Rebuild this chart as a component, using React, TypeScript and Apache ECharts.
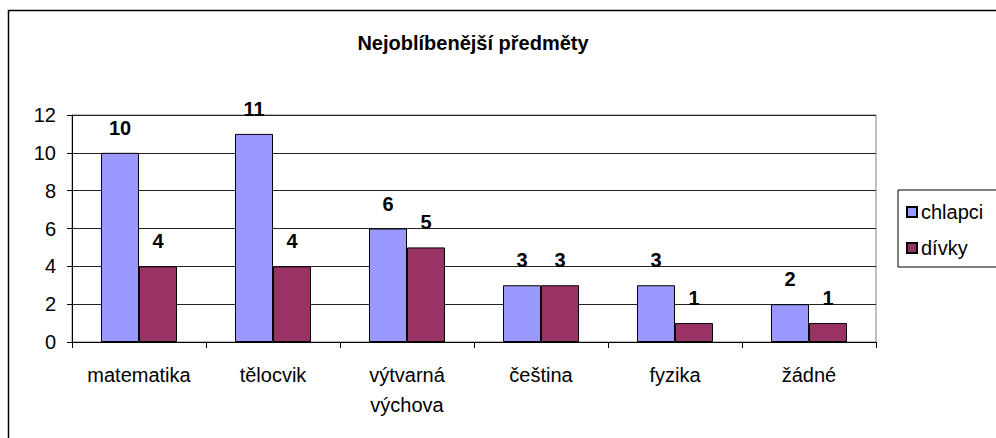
import React, { useEffect, useRef } from "react";
import * as echarts from "echarts";

const categories = ["matematika", "tělocvik", "výtvarná\nvýchova", "čeština", "fyzika", "žádné"];
const chlapci = [10, 11, 6, 3, 3, 2];
const divky = [4, 4, 5, 3, 1, 1];
const seriesNames = ["chlapci", "dívky"];
const titleText = "Nejoblíbenější předměty";

const FONT = 'Arial, "Liberation Sans", sans-serif';

export default function App() {
  const ref = useRef<HTMLDivElement>(null);
  useEffect(() => {
    if (!ref.current) return;
    const chart = echarts.init(ref.current, undefined, { renderer: "svg" });
    const label = {
      show: true,
      position: "top",
      distance: 15,
      fontFamily: FONT,
      fontSize: 20,
      fontWeight: "bold",
      color: "#000",
    };
    chart.setOption({
      animation: false,
      backgroundColor: "#fff",
      textStyle: { fontFamily: FONT },
      title: {
        text: titleText,
        left: 468,
        textAlign: "center",
        top: 28,
        textStyle: { fontFamily: FONT, fontSize: 20, fontWeight: "bold", color: "#000" },
      },
      graphic: [
        {
          type: "rect",
          shape: { x: 8.5, y: 10.5, width: 1100, height: 600 },
          style: { fill: "none", stroke: "#000", lineWidth: 1.5 },
          silent: true,
        },
      ],
      legend: {
        orient: "vertical",
        left: 898,
        top: 190,
        padding: [12, 30, 9, 8],
        itemWidth: 10,
        itemHeight: 10,
        itemGap: 16,
        borderColor: "#000",
        borderWidth: 1,
        icon: "rect",
        textStyle: { fontFamily: FONT, fontSize: 20, color: "#000", padding: [0, 0, 0, -1] },
        data: seriesNames,
      },
      grid: {
        left: 72,
        right: 120,
        top: 115,
        bottom: 96,
        show: true,
        borderColor: "#808080",
        borderWidth: 1,
        containLabel: false,
      },
      xAxis: {
        type: "category",
        data: categories,
        axisLine: { show: true, lineStyle: { color: "#000", width: 1 } },
        axisTick: { show: true, length: 6, lineStyle: { color: "#000" } },
        axisLabel: {
          margin: 18,
          fontFamily: FONT,
          fontSize: 20,
          color: "#000",
          lineHeight: 30,
          interval: 0,
        },
      },
      yAxis: {
        type: "value",
        min: 0,
        max: 12,
        interval: 2,
        axisLine: { show: true, lineStyle: { color: "#000", width: 1 } },
        axisTick: { show: true, length: 5, lineStyle: { color: "#000" } },
        axisLabel: { margin: 16, fontFamily: FONT, fontSize: 20, color: "#000" },
        splitLine: { show: true, lineStyle: { color: "#222", width: 1 } },
      },
      series: [
        {
          name: seriesNames[0],
          type: "bar",
          data: chlapci,
          barWidth: 38,
          barGap: "0%",
          itemStyle: { color: "#9999FF", borderColor: "#000", borderWidth: 1 },
          label,
        },
        {
          name: seriesNames[1],
          type: "bar",
          data: divky,
          barWidth: 38,
          barGap: "0%",
          itemStyle: { color: "#993366", borderColor: "#000", borderWidth: 1 },
          label,
        },
      ],
    });
    return () => chart.dispose();
  }, []);
  return (
    <div
      ref={ref}
      style={{ position: "absolute", left: 0, top: 0, width: 996, height: 438 }}
    />
  );
}
